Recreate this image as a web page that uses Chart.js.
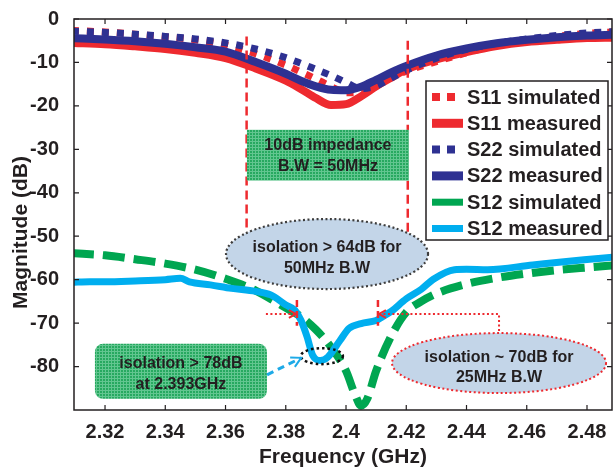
<!DOCTYPE html>
<html>
<head>
<meta charset="utf-8">
<script src="https://cdn.jsdelivr.net/npm/chart.js@4.4.0/dist/chart.umd.min.js"></script>
<style>
  html, body { margin: 0; padding: 0; background: #fff; }
</style>
</head>
<body>
<canvas id="sparamChart" width="614" height="473"></canvas>
<script>
// Reflection curves (S11 / S22), magnitude in dB vs frequency in GHz
const freqRefl = [2.309, 2.32, 2.33, 2.34, 2.35, 2.36, 2.37, 2.38, 2.385, 2.39, 2.395, 2.40,
                  2.405, 2.41, 2.415, 2.42, 2.43, 2.44, 2.45, 2.46, 2.47, 2.48, 2.489];
const s11Sim  = [-2.6, -3.0, -3.5, -4.1, -4.8, -6.0, -8.0, -10.6, -12.2, -13.8, -15.5, -17.0,
                 -16.8, -15.0, -13.5, -12.0, -9.8, -7.8, -6.1, -4.9, -4.0, -3.3, -3.0];
const s11Meas = [-5.5, -5.8, -6.3, -6.9, -7.8, -9.0, -11.4, -14.2, -16.1, -18.2, -19.8, -19.6,
                 -17.8, -15.5, -13.5, -11.6, -9.3, -7.6, -6.2, -5.3, -4.8, -4.4, -4.3];
const s22Sim  = [-2.8, -3.1, -3.5, -4.0, -4.6, -5.5, -6.9, -8.9, -10.2, -11.6, -13.0, -14.6,
                 -16.0, -15.4, -13.6, -11.8, -9.0, -7.0, -5.6, -4.6, -3.8, -3.2, -2.9];
const s22Meas = [-4.4, -4.7, -5.1, -5.7, -6.5, -7.5, -9.9, -12.6, -14.2, -15.5, -16.3, -16.4,
                 -15.6, -14.0, -12.3, -10.8, -8.4, -6.8, -5.6, -4.8, -4.2, -3.8, -3.6];

// Isolation (S12)
const freqS12Sim = [2.309, 2.32, 2.33, 2.34, 2.35, 2.36, 2.37, 2.38, 2.385, 2.39, 2.395, 2.40, 2.403,
                    2.405, 2.407, 2.41, 2.415, 2.42, 2.425, 2.43, 2.44, 2.45, 2.46, 2.47, 2.48, 2.489];
const s12Sim = [-53.9, -54.4, -55.3, -56.3, -57.7, -59.8, -62.5, -66.5, -68.5, -71.5, -75.5, -81.0, -86.5,
                -89.0, -87.5, -81.0, -73.0, -67.5, -65.0, -63.2, -61.0, -59.6, -58.6, -57.8, -57.2, -56.7];
const freqS12Meas = [2.309, 2.315, 2.32, 2.33, 2.34, 2.345, 2.348, 2.355, 2.362, 2.37, 2.375, 2.38, 2.383,
                     2.385, 2.387, 2.389, 2.3915, 2.394, 2.398, 2.401, 2.405, 2.41, 2.412, 2.415, 2.42,
                     2.425, 2.429, 2.436, 2.44, 2.447, 2.462, 2.479, 2.489];
const s12Meas = [-60.6, -60.5, -60.5, -60.3, -60.0, -59.7, -60.5, -61.2, -62.0, -62.7, -63.5, -65.8, -67.0,
                 -69.3, -73.0, -77.5, -78.6, -77.8, -74.0, -71.2, -70.1, -69.4, -68.6, -67.3, -64.4,
                 -62.2, -59.9, -57.7, -57.6, -57.7, -56.6, -55.4, -54.8];

// Axis ticks
const xTicks = [2.32, 2.34, 2.36, 2.38, 2.40, 2.42, 2.44, 2.46, 2.48];
const yTicks = [0, -10, -20, -30, -40, -50, -60, -70, -80];

// Marker frequencies used by the annotations
const bandEdges = [2.367, 2.4205];   // 10 dB impedance bandwidth
const isoEdges  = [2.3837, 2.4106];  // 25 MHz isolation band

const RED = '#ee2a2f', BLUE = '#2e3192', GREEN = '#00a651', CYAN = '#00aeef', INK = '#231f20';
const FONT = "'Liberation Sans', Arial, sans-serif";

const pts = (fs, vs) => fs.map((f, i) => ({ x: f, y: vs[i] }));

function greenPattern(ctx) {
  const c = document.createElement('canvas');
  c.width = c.height = 3;
  const g = c.getContext('2d');
  g.fillStyle = '#27a960'; g.fillRect(0, 0, 3, 3);
  g.fillStyle = '#62c690'; g.fillRect(0, 0, 3, 1); g.fillRect(0, 0, 1, 3);
  return ctx.createPattern(c, 'repeat');
}

function text2(c, lines, x, ys) {
  c.fillStyle = INK;
  c.font = `bold 16px ${FONT}`;
  c.textAlign = 'center';
  c.textBaseline = 'middle';
  lines.forEach((t, i) => c.fillText(t, x, ys[i]));
}

function chevron(c, tx, ty, ang, len, color) {
  c.save();
  c.setLineDash([]);
  c.strokeStyle = color;
  c.lineWidth = 2;
  c.beginPath();
  c.moveTo(tx + len * Math.cos(ang + 0.5), ty + len * Math.sin(ang + 0.5));
  c.lineTo(tx, ty);
  c.lineTo(tx + len * Math.cos(ang - 0.5), ty + len * Math.sin(ang - 0.5));
  c.stroke();
  c.restore();
}

// Annotations: bandwidth markers, text boxes, callouts
const annotationPlugin = {
  id: 'annotations',
  afterDatasetsDraw(chart) {
    const { ctx: c, scales } = chart;
    const X = f => scales.x.getPixelForValue(f);
    const Y = v => scales.y.getPixelForValue(v);
    c.save();

    // 10 dB bandwidth dashed verticals
    c.strokeStyle = RED; c.lineWidth = 2.5; c.setLineDash([9, 5]);
    [[bandEdges[0], -4.0, -49.0], [bandEdges[1], -5.0, -49.5]].forEach(([f, a, b]) => {
      c.beginPath(); c.moveTo(X(f), Y(a)); c.lineTo(X(f), Y(b)); c.stroke();
    });

    // green box: 10dB impedance
    c.setLineDash([]);
    c.fillStyle = greenPattern(c);
    const bx0 = X(2.3671), bx1 = X(2.4209), by0 = Y(-25.5), by1 = Y(-37.2);
    c.fillRect(bx0, by0, bx1 - bx0, by1 - by0);
    text2(c, ['10dB impedance', 'B.W = 50MHz'], (bx0 + bx1) / 2, [Y(-29.1), Y(-33.9)]);

    // ellipse: isolation > 64dB
    let cx = X(2.3937), cy = Y(-54.1);
    c.beginPath(); c.ellipse(cx, cy, 101, 35, 0, 0, Math.PI * 2);
    c.fillStyle = '#c3d5e8'; c.fill();
    c.strokeStyle = '#3d3d3d'; c.lineWidth = 2.2; c.setLineDash([2, 2.5]); c.stroke();
    text2(c, ['isolation > 64dB for', '50MHz B.W'], cx, [cy - 6, cy + 15]);

    // isolation band markers
    const yMark = Y(-67.9);
    c.strokeStyle = RED;
    isoEdges.forEach(f => {
      c.lineWidth = 2.5; c.setLineDash([7, 4]);
      c.beginPath(); c.moveTo(X(f), Y(-64.7)); c.lineTo(X(f), Y(-70.6)); c.stroke();
    });
    c.lineWidth = 2; c.setLineDash([2, 2.5]);
    c.beginPath(); c.moveTo(X(isoEdges[0]) - 31, yMark); c.lineTo(X(isoEdges[0]) - 1, yMark); c.stroke();
    const rx = X(2.4508);
    c.beginPath(); c.moveTo(X(isoEdges[1]) + 1, yMark); c.lineTo(rx, yMark); c.lineTo(rx, Y(-72.2)); c.stroke();
    chevron(c, X(isoEdges[0]) - 1, yMark, Math.PI, 8, RED);
    chevron(c, X(isoEdges[1]) + 1, yMark, 0, 8, RED);

    // ellipse: isolation ~ 70dB
    cx = X(2.4508); cy = Y(-79.2);
    c.beginPath(); c.ellipse(cx, cy, 107, 30, 0, 0, Math.PI * 2);
    c.fillStyle = '#c3d5e8'; c.fill();
    c.strokeStyle = RED; c.lineWidth = 2; c.setLineDash([2, 2.5]); c.stroke();
    text2(c, ['isolation ~ 70dB for', '25MHz B.W'], cx, [cy - 5, cy + 15]);

    // green rounded box: isolation > 78dB
    c.setLineDash([]);
    const gx = X(2.3452), gy = Y(-81.1);
    c.beginPath(); c.roundRect(gx - 86, gy - 27.5, 172, 55, 8);
    c.fillStyle = greenPattern(c); c.fill();
    text2(c, ['isolation > 78dB', 'at 2.393GHz'], gx, [Y(-79.4), Y(-84.1)]);

    // black dotted ring around the measured minimum
    c.beginPath(); c.ellipse(X(2.3920), Y(-77.6), 21, 8, 0, 0, Math.PI * 2);
    c.strokeStyle = '#111'; c.lineWidth = 2.5; c.setLineDash([2.5, 3]); c.stroke();

    // cyan dashed arrow
    const ax0 = X(2.3738), ay0 = Y(-81.9), ax1 = X(2.3851), ay1 = Y(-78.0);
    c.strokeStyle = '#1eaae7'; c.lineWidth = 3; c.setLineDash([7, 5]);
    c.beginPath(); c.moveTo(ax0, ay0); c.lineTo(ax1, ay1); c.stroke();
    chevron(c, ax1, ay1, Math.atan2(ay0 - ay1, ax0 - ax1), 11, '#1eaae7');

    c.restore();
  }
};

// Frame, inward tick marks, y title and boxed legend
const framePlugin = {
  id: 'frame',
  afterDraw(chart) {
    const { ctx: c, chartArea: a, scales } = chart;
    c.save();
    c.strokeStyle = INK; c.lineWidth = 1.5; c.setLineDash([]);
    c.strokeRect(a.left, a.top, a.right - a.left, a.bottom - a.top);
    c.lineWidth = 1.2;
    c.beginPath();
    xTicks.forEach(v => {
      const x = scales.x.getPixelForValue(v);
      c.moveTo(x, a.bottom); c.lineTo(x, a.bottom - 5);
      c.moveTo(x, a.top); c.lineTo(x, a.top + 5);
    });
    yTicks.forEach(v => {
      const y = scales.y.getPixelForValue(v);
      c.moveTo(a.left, y); c.lineTo(a.left + 5, y);
      c.moveTo(a.right, y); c.lineTo(a.right - 5, y);
    });
    c.stroke();

    // y axis title
    c.fillStyle = INK;
    c.font = `bold 21px ${FONT}`;
    c.textAlign = 'center'; c.textBaseline = 'middle';
    c.translate(21, (a.top + a.bottom) / 2 + 18);
    c.rotate(-Math.PI / 2);
    c.fillText('Magnitude (dB)', 0, 0);
    c.restore();

    // legend
    c.save();
    const lx = a.right - 186, ly = a.top + 62, lw = 182, lh = 159;
    c.fillStyle = '#fff'; c.fillRect(lx, ly, lw, lh);
    c.strokeStyle = INK; c.lineWidth = 1.5; c.strokeRect(lx, ly, lw, lh);
    c.font = `bold 20px ${FONT}`;
    c.textAlign = 'left'; c.textBaseline = 'middle';
    chart.data.datasets.forEach((ds, i) => {
      const y = ly + 16 + i * 26.3;
      c.strokeStyle = ds.borderColor;
      c.lineWidth = ds.legendWidth;
      c.setLineDash(ds.legendDash);
      c.lineCap = 'butt';
      c.beginPath(); c.moveTo(lx + 6, y); c.lineTo(lx + (ds.legendDash.length ? 30 : 37), y); c.stroke();
      c.fillStyle = INK;
      c.fillText(ds.label, lx + 41, y + 1);
    });
    c.restore();
  }
};

const line = (label, data, color, width, dash, order, legendWidth, legendDash) => ({
  label, data, borderColor: color, borderWidth: width, borderDash: dash,
  pointRadius: 0, fill: false, cubicInterpolationMode: 'monotone', clip: 0, order,
  legendWidth, legendDash
});

const tickFont = { family: FONT, size: 20, weight: 'bold' };

new Chart(document.getElementById('sparamChart'), {
  type: 'line',
  data: {
    datasets: [
      line('S11 simulated', pts(freqRefl, s11Sim),  RED,  7, [7, 8], 5, 8, [8, 7]),
      line('S11 measured',  pts(freqRefl, s11Meas), RED,  8, [],     4, 9, []),
      line('S22 simulated', pts(freqRefl, s22Sim),  BLUE, 7, [7, 8], 3, 8, [8, 7]),
      line('S22 measured',  pts(freqRefl, s22Meas), BLUE, 8, [],     2, 9, []),
      line('S12 simulated', pts(freqS12Sim, s12Sim),   GREEN, 8, [22, 9], 1, 7, []),
      line('S12 measured',  pts(freqS12Meas, s12Meas), CYAN,  7, [],      0, 7, []),
    ]
  },
  options: {
    responsive: false,
    animation: false,
    devicePixelRatio: 1,
    layout: { padding: { top: 11, right: 2, left: 0, bottom: 0 } },
    plugins: { legend: { display: false }, tooltip: { enabled: false } },
    scales: {
      x: {
        type: 'linear', min: 2.3097, max: 2.4883,
        grid: { display: false }, border: { display: false },
        afterBuildTicks: s => { s.ticks = xTicks.map(v => ({ value: v })); },
        afterFit: s => { s.height = 63; },
        ticks: { font: tickFont, color: INK, padding: 2, maxRotation: 0,
                 callback: v => String(+v.toFixed(2)) },
        title: { display: true, text: 'Frequency (GHz)', color: INK,
                 font: { family: FONT, size: 21, weight: 'bold' }, padding: { top: 0, bottom: 3 } }
      },
      y: {
        type: 'linear', min: -90, max: 0,
        grid: { display: false }, border: { display: false },
        afterBuildTicks: s => { s.ticks = yTicks.map(v => ({ value: v })); },
        afterFit: s => { s.width = 74; },
        ticks: { font: tickFont, color: INK, padding: 7, callback: v => String(v) }
      }
    }
  },
  plugins: [annotationPlugin, framePlugin]
});
</script>
</body>
</html>
